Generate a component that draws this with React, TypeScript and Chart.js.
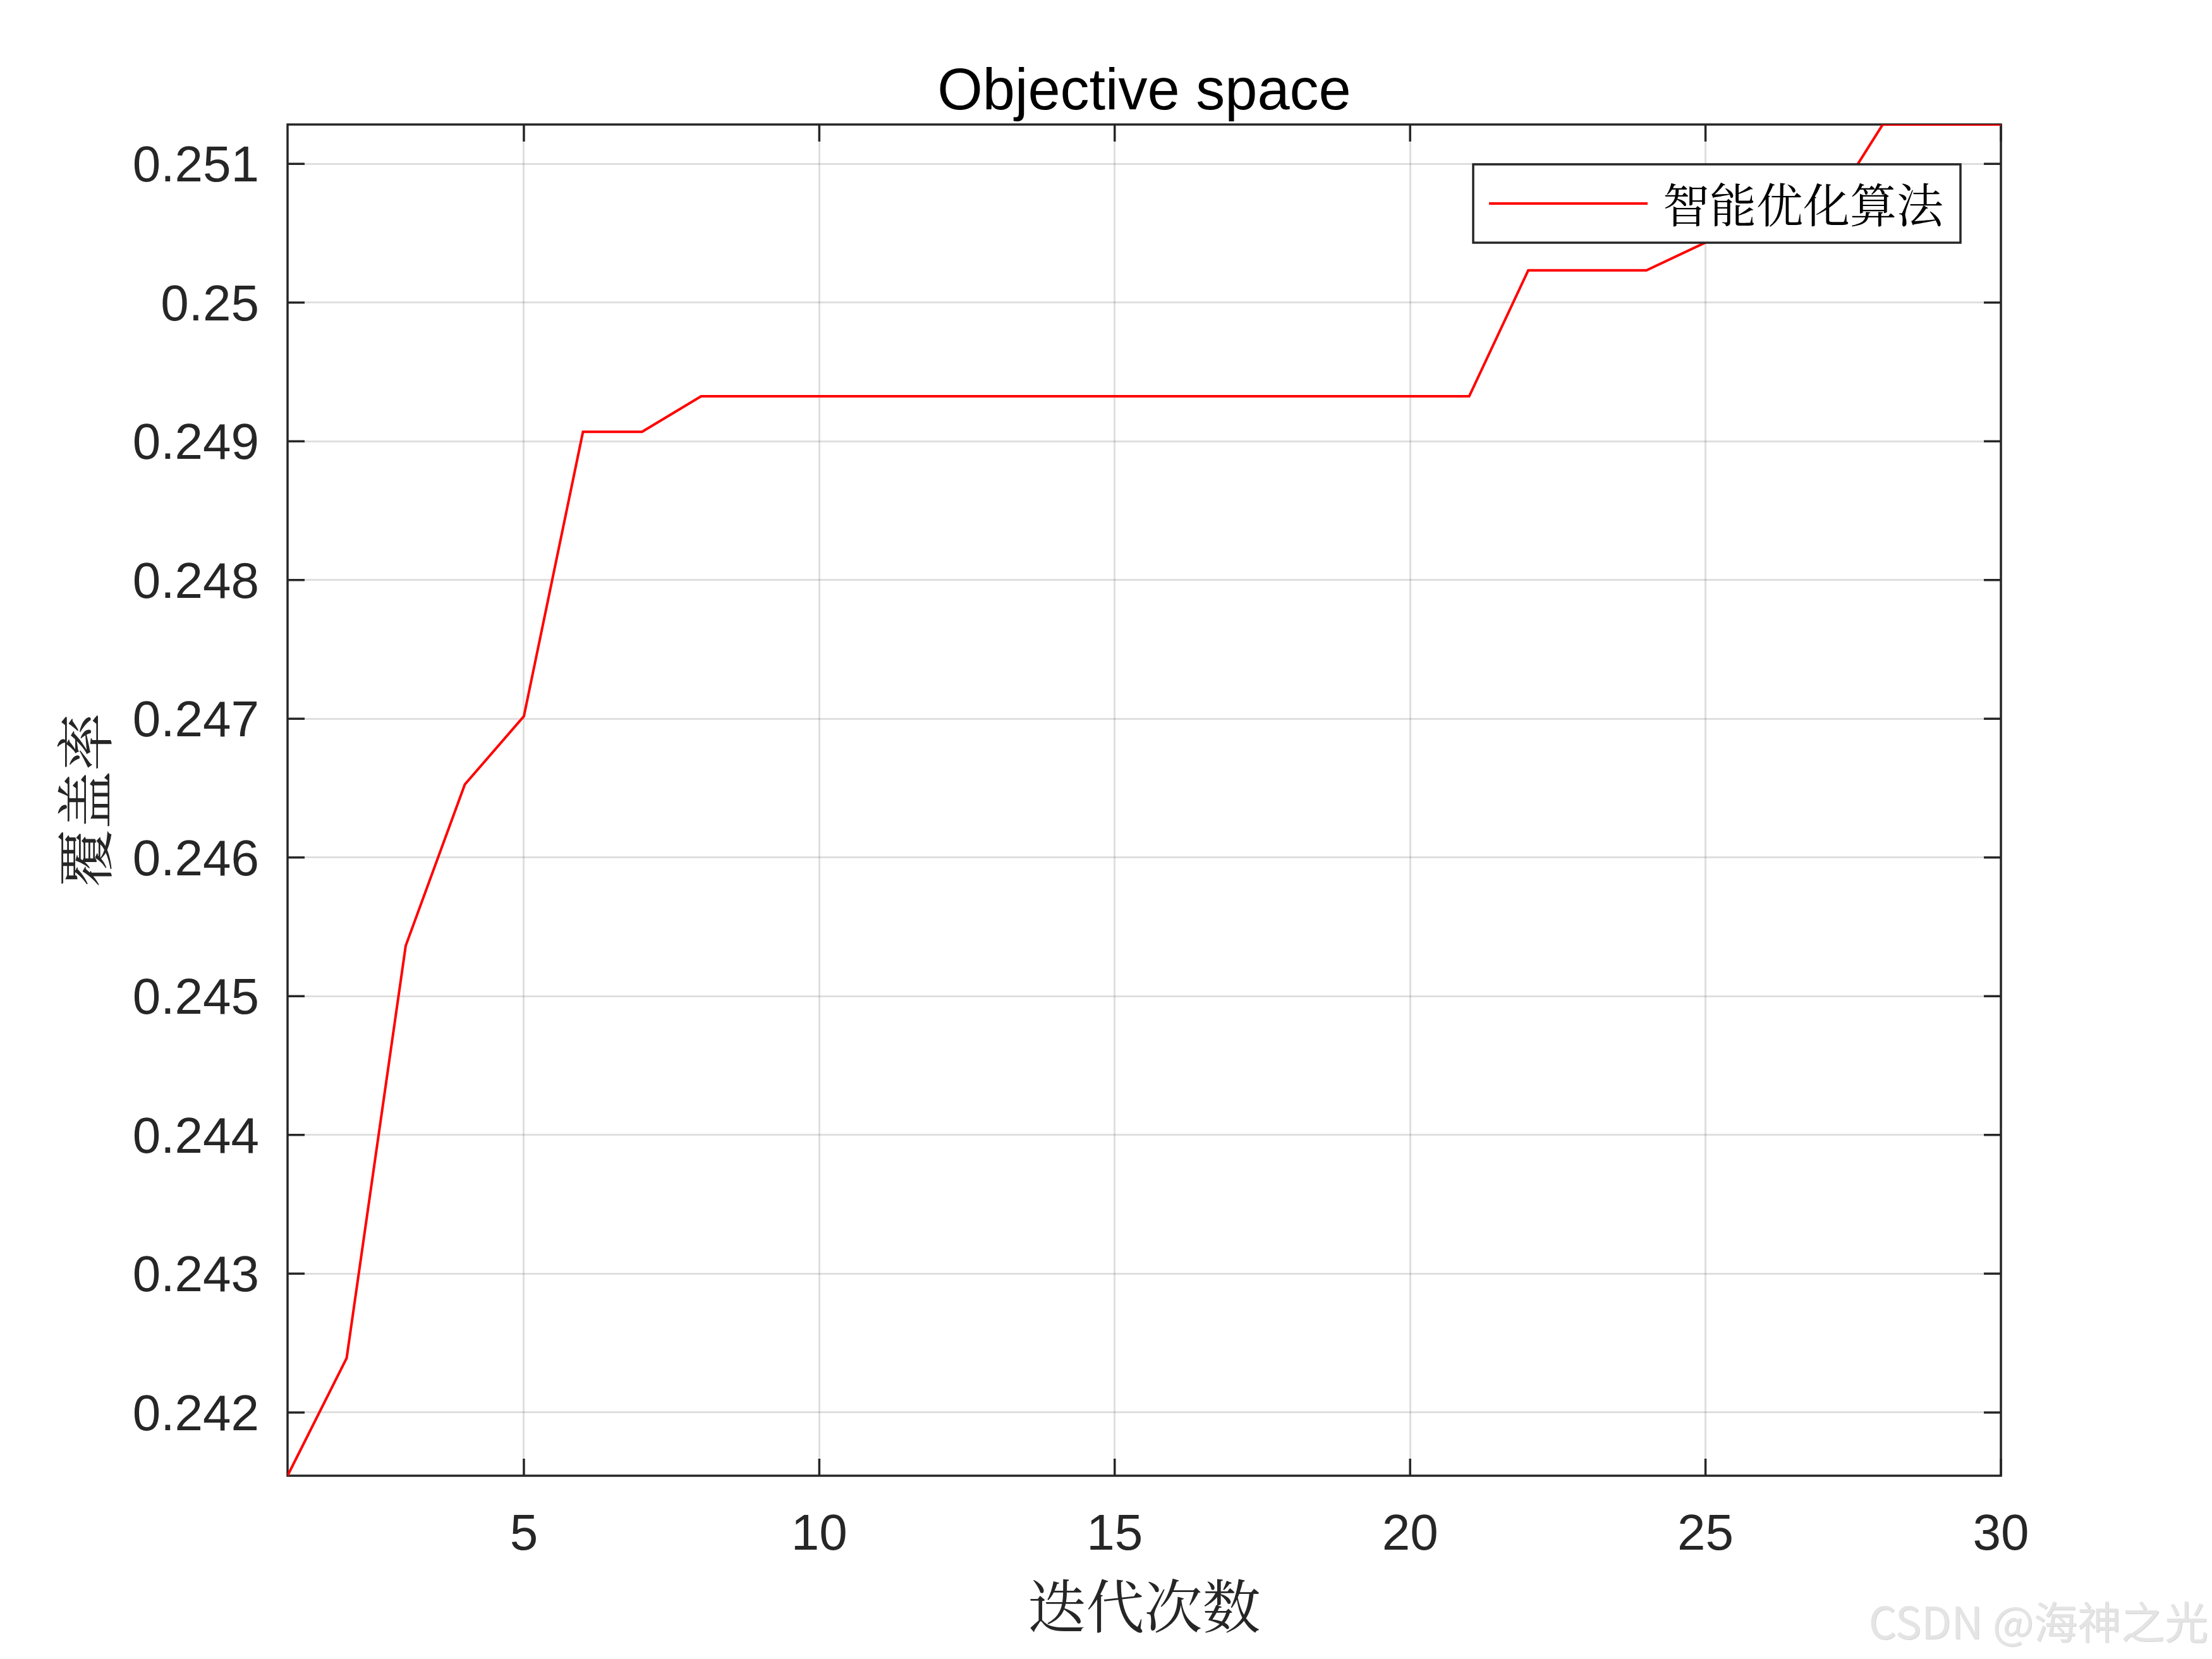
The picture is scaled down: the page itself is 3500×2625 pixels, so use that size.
import React, { useEffect, useRef } from "react";
import { Chart, registerables } from "chart.js";

Chart.register(...registerables);

// ---------------- data ----------------
const iterations = [1, 2, 3, 4, 5, 6, 7, 8, 9, 10, 11, 12, 13, 14, 15, 16, 17, 18, 19, 20, 21, 22, 23, 24, 25, 26, 27, 28, 29, 30];
const coverage = [
  0.241544, 0.242392, 0.245364, 0.246526, 0.247018, 0.249068, 0.249068, 0.249324, 0.249324, 0.249324,
  0.249324, 0.249324, 0.249324, 0.249324, 0.249324, 0.249324, 0.249324, 0.249324, 0.249324, 0.249324,
  0.249324, 0.250232, 0.250232, 0.250232, 0.250433, 0.250517, 0.250608, 0.251283, 0.251283, 0.251283,
];
const xTicks = [5, 10, 15, 20, 25, 30];
const yTicks = [0.242, 0.243, 0.244, 0.245, 0.246, 0.247, 0.248, 0.249, 0.25, 0.251];
const titleText = "Objective space";
const xLabel = "迭代次数";
const yLabel = "覆盖率";
const seriesName = "智能优化算法";
const watermark = "CSDN @海神之光";

// ---------------- styles ----------------
const LATIN = '"Liberation Sans", Arial, Helvetica, sans-serif';
const CJK = '"Noto Serif CJK SC", SimSun, "Noto Sans CJK SC", serif';
const AXIS = "#262626";
const W = 3500;
const H = 2625;

const framePlugin = {
  id: "matlabFrame",
  beforeDatasetsDraw(chart: any) {
    const { ctx, chartArea: a, scales } = chart;
    const L = 27;
    ctx.save();
    ctx.strokeStyle = AXIS;
    ctx.lineWidth = 3.5;
    ctx.beginPath();
    for (const t of scales.x.ticks) {
      const px = scales.x.getPixelForValue(t.value);
      ctx.moveTo(px, a.bottom);
      ctx.lineTo(px, a.bottom - L);
      ctx.moveTo(px, a.top);
      ctx.lineTo(px, a.top + L);
    }
    for (const t of scales.y.ticks) {
      const py = scales.y.getPixelForValue(t.value);
      ctx.moveTo(a.left, py);
      ctx.lineTo(a.left + L, py);
      ctx.moveTo(a.right, py);
      ctx.lineTo(a.right - L, py);
    }
    ctx.stroke();
    ctx.strokeRect(a.left, a.top, a.right - a.left, a.bottom - a.top);
    ctx.restore();
  },
  afterDraw(chart: any) {
    const { ctx, chartArea: a } = chart;
    ctx.save();
    // title
    ctx.font = `92px ${LATIN}`;
    ctx.fillStyle = "#000";
    ctx.textAlign = "center";
    ctx.textBaseline = "alphabetic";
    ctx.fillText(titleText, (a.left + a.right) / 2, a.top - 24);

    // legend
    const ds = chart.data.datasets[0];
    ctx.font = `74px ${CJK}`;
    const tw = ctx.measureText(ds.label).width;
    const h = 124;
    const w = 25 + 251 + 24 + tw + 27;
    const right = a.right - 64;
    const top = a.top + 63;
    const left = right - w;
    ctx.fillStyle = "#fff";
    ctx.fillRect(left, top, w, h);
    ctx.strokeStyle = AXIS;
    ctx.lineWidth = 3.5;
    ctx.strokeRect(left, top, w, h);
    ctx.strokeStyle = ds.borderColor;
    ctx.lineWidth = 4;
    ctx.beginPath();
    ctx.moveTo(left + 25, top + h / 2);
    ctx.lineTo(left + 276, top + h / 2);
    ctx.stroke();
    ctx.fillStyle = "#000";
    ctx.textAlign = "left";
    ctx.textBaseline = "middle";
    ctx.fillText(ds.label, left + 300, top + h / 2 + 2);

    // watermark
    ctx.font = `69px "Noto Sans CJK SC", ${LATIN}`;
    ctx.textAlign = "right";
    ctx.textBaseline = "alphabetic";
    ctx.shadowColor = "rgba(0,0,0,0.18)";
    ctx.shadowOffsetX = 1;
    ctx.shadowOffsetY = 1;
    ctx.shadowBlur = 1;
    ctx.fillStyle = "#e4e4e4";
    ctx.fillText(watermark, chart.width - 6, 2593);
    ctx.restore();
  },
};

export default function App() {
  const ref = useRef<HTMLCanvasElement | null>(null);

  useEffect(() => {
    if (!ref.current) return;
    const yMin = Math.min(...coverage);
    const yMax = Math.max(...coverage);
    const chart = new Chart(ref.current, {
      type: "line",
      data: {
        datasets: [
          {
            label: seriesName,
            data: iterations.map((x, i) => ({ x, y: coverage[i] })),
            borderColor: "#ff0000",
            backgroundColor: "#ff0000",
            borderWidth: 4,
            pointRadius: 0,
            tension: 0,
            fill: false,
          },
        ],
      },
      options: {
        responsive: false,
        devicePixelRatio: 1,
        animation: false,
        layout: { padding: { left: 0, top: 197, right: W - 3166, bottom: 0 } },
        plugins: {
          legend: { display: false },
          title: { display: false },
          tooltip: { enabled: false },
        },
        scales: {
          x: {
            type: "linear",
            min: iterations[0],
            max: iterations[iterations.length - 1],
            afterBuildTicks: (s: any) => {
              s.ticks = xTicks.map((v) => ({ value: v }));
            },
            afterFit: (s: any) => {
              s.height = H - 2335;
            },
            grid: { color: "rgba(38,38,38,0.15)", lineWidth: 3, drawTicks: false },
            border: { display: false },
            ticks: {
              padding: 47,
              color: AXIS,
              font: { family: LATIN, size: 80 },
              callback: (v: any) => String(v),
              maxRotation: 0,
              autoSkip: false,
            },
            title: {
              display: true,
              text: xLabel,
              color: AXIS,
              font: { family: CJK, size: 92 },
              padding: { top: 0, bottom: 29 },
            },
          },
          y: {
            type: "linear",
            min: yMin,
            max: yMax,
            afterBuildTicks: (s: any) => {
              s.ticks = yTicks.map((v) => ({ value: v }));
            },
            afterFit: (s: any) => {
              s.width = 455;
            },
            grid: { color: "rgba(38,38,38,0.15)", lineWidth: 3, drawTicks: false },
            border: { display: false },
            ticks: {
              padding: 45,
              labelOffset: 6,
              color: AXIS,
              font: { family: LATIN, size: 80 },
              callback: (v: any) => String(Number(Number(v).toFixed(3))),
              autoSkip: false,
            },
            title: {
              display: true,
              text: yLabel,
              color: AXIS,
              font: { family: CJK, size: 92 },
              padding: { top: 79, bottom: 0 },
            },
          },
        },
      },
      plugins: [framePlugin],
    } as any);
    return () => chart.destroy();
  }, []);

  return (
    <canvas
      ref={ref}
      width={W}
      height={H}
      style={{ position: "absolute", left: 0, top: 0, width: W, height: H, background: "#fff" }}
    />
  );
}
